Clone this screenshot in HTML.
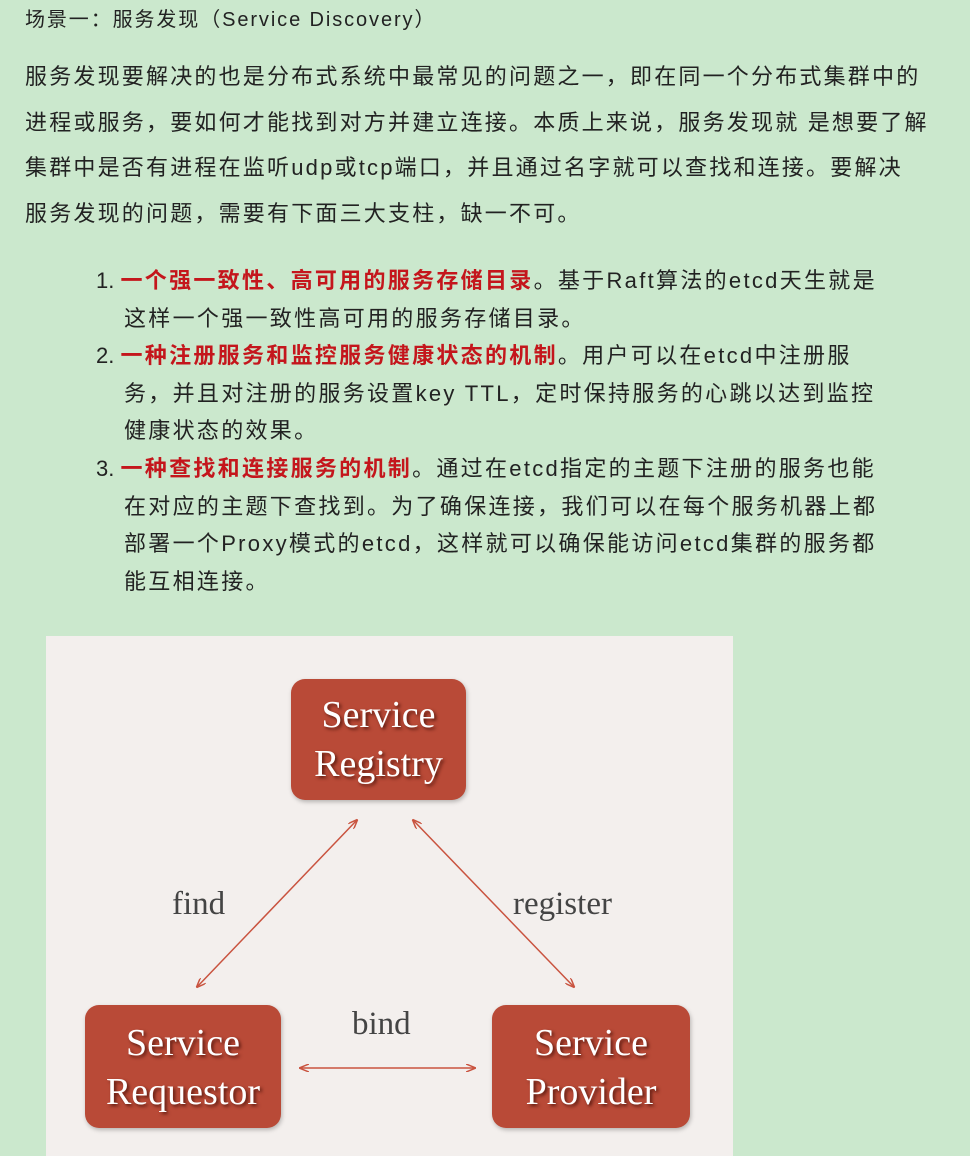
<!DOCTYPE html><html><head><meta charset="utf-8"><style>
body{margin:0;width:970px;height:1147px;background:#cbe8cd;overflow:hidden;font-family:"Liberation Sans","Noto Sans CJK SC",sans-serif;color:#222;position:relative}
.t{position:absolute;left:25px;top:5px;font-size:20px;line-height:30px;letter-spacing:1.9px;white-space:nowrap}
.p{position:absolute;left:25px;top:54px;font-size:22px;line-height:45.5px;letter-spacing:2.2px;white-space:nowrap}
.l{position:absolute;left:96px;top:262px;font-size:22px;line-height:37.6px;letter-spacing:2.3px;white-space:nowrap}
.l div{padding-left:28px;text-indent:-28px}
.l .n{letter-spacing:0}
b{color:#c4161c}
.img{position:absolute;left:46px;top:636px;width:687px;height:520px;background:#f3efed}
.bx{position:absolute;background:#b94a37;border-radius:14px;color:#fff;font-family:"Liberation Serif",serif;font-size:38px;line-height:49px;text-align:center;text-shadow:2px 2px 3px #5a1a10;box-shadow:1px 2px 4px rgba(0,0,0,.25)}
.lb{position:absolute;font-family:"Liberation Serif",serif;font-size:33px;color:#444}
</style></head><body>
<div class="t">场景一：服务发现（Service Discovery）</div>
<div class="p">服务发现要解决的也是分布式系统中最常见的问题之一，即在同一个分布式集群中的<br>进程或服务，要如何才能找到对方并建立连接。本质上来说，服务发现就 是想要了解<br>集群中是否有进程在监听udp或tcp端口，并且通过名字就可以查找和连接。要解决<br>服务发现的问题，需要有下面三大支柱，缺一不可。</div>
<div class="l">
<div><span class="n">1. </span><b>一个强一致性、高可用的服务存储目录</b>。基于Raft算法的etcd天生就是<br>这样一个强一致性高可用的服务存储目录。</div>
<div><span class="n">2. </span><b>一种注册服务和监控服务健康状态的机制</b>。用户可以在etcd中注册服<br>务，并且对注册的服务设置key TTL，定时保持服务的心跳以达到监控<br>健康状态的效果。</div>
<div><span class="n">3. </span><b>一种查找和连接服务的机制</b>。通过在etcd指定的主题下注册的服务也能<br>在对应的主题下查找到。为了确保连接，我们可以在每个服务机器上都<br>部署一个Proxy模式的etcd，这样就可以确保能访问etcd集群的服务都<br>能互相连接。</div>
</div>
<div class="img"></div>
<div class="bx" style="left:291px;top:679px;width:175px;height:121px;padding-top:12px;box-sizing:border-box">Service<br>Registry</div>
<div class="bx" style="left:85px;top:1005px;width:196px;height:123px;padding-top:14px;box-sizing:border-box">Service<br>Requestor</div>
<div class="bx" style="left:492px;top:1005px;width:198px;height:123px;padding-top:14px;box-sizing:border-box">Service<br>Provider</div>
<div class="lb" style="left:172px;top:886px">find</div>
<div class="lb" style="left:513px;top:886px">register</div>
<div class="lb" style="left:352px;top:1006px">bind</div>
<svg style="position:absolute;left:0;top:0" width="970" height="1147"><defs><marker id="a" markerWidth="10" markerHeight="8" refX="9" refY="4" orient="auto-start-reverse" markerUnits="userSpaceOnUse"><path d="M0,0 L10,4 L0,8" fill="none" stroke="#c9533f" stroke-width="1.5"/></marker></defs>
<g stroke="#c9533f" stroke-width="1.5" fill="none">
<line x1="357" y1="820" x2="197" y2="987" marker-start="url(#a)" marker-end="url(#a)"/>
<line x1="413" y1="820" x2="574" y2="987" marker-start="url(#a)" marker-end="url(#a)"/>
<line x1="300" y1="1068" x2="475" y2="1068" marker-start="url(#a)" marker-end="url(#a)"/>
</g></svg>
</body></html>
